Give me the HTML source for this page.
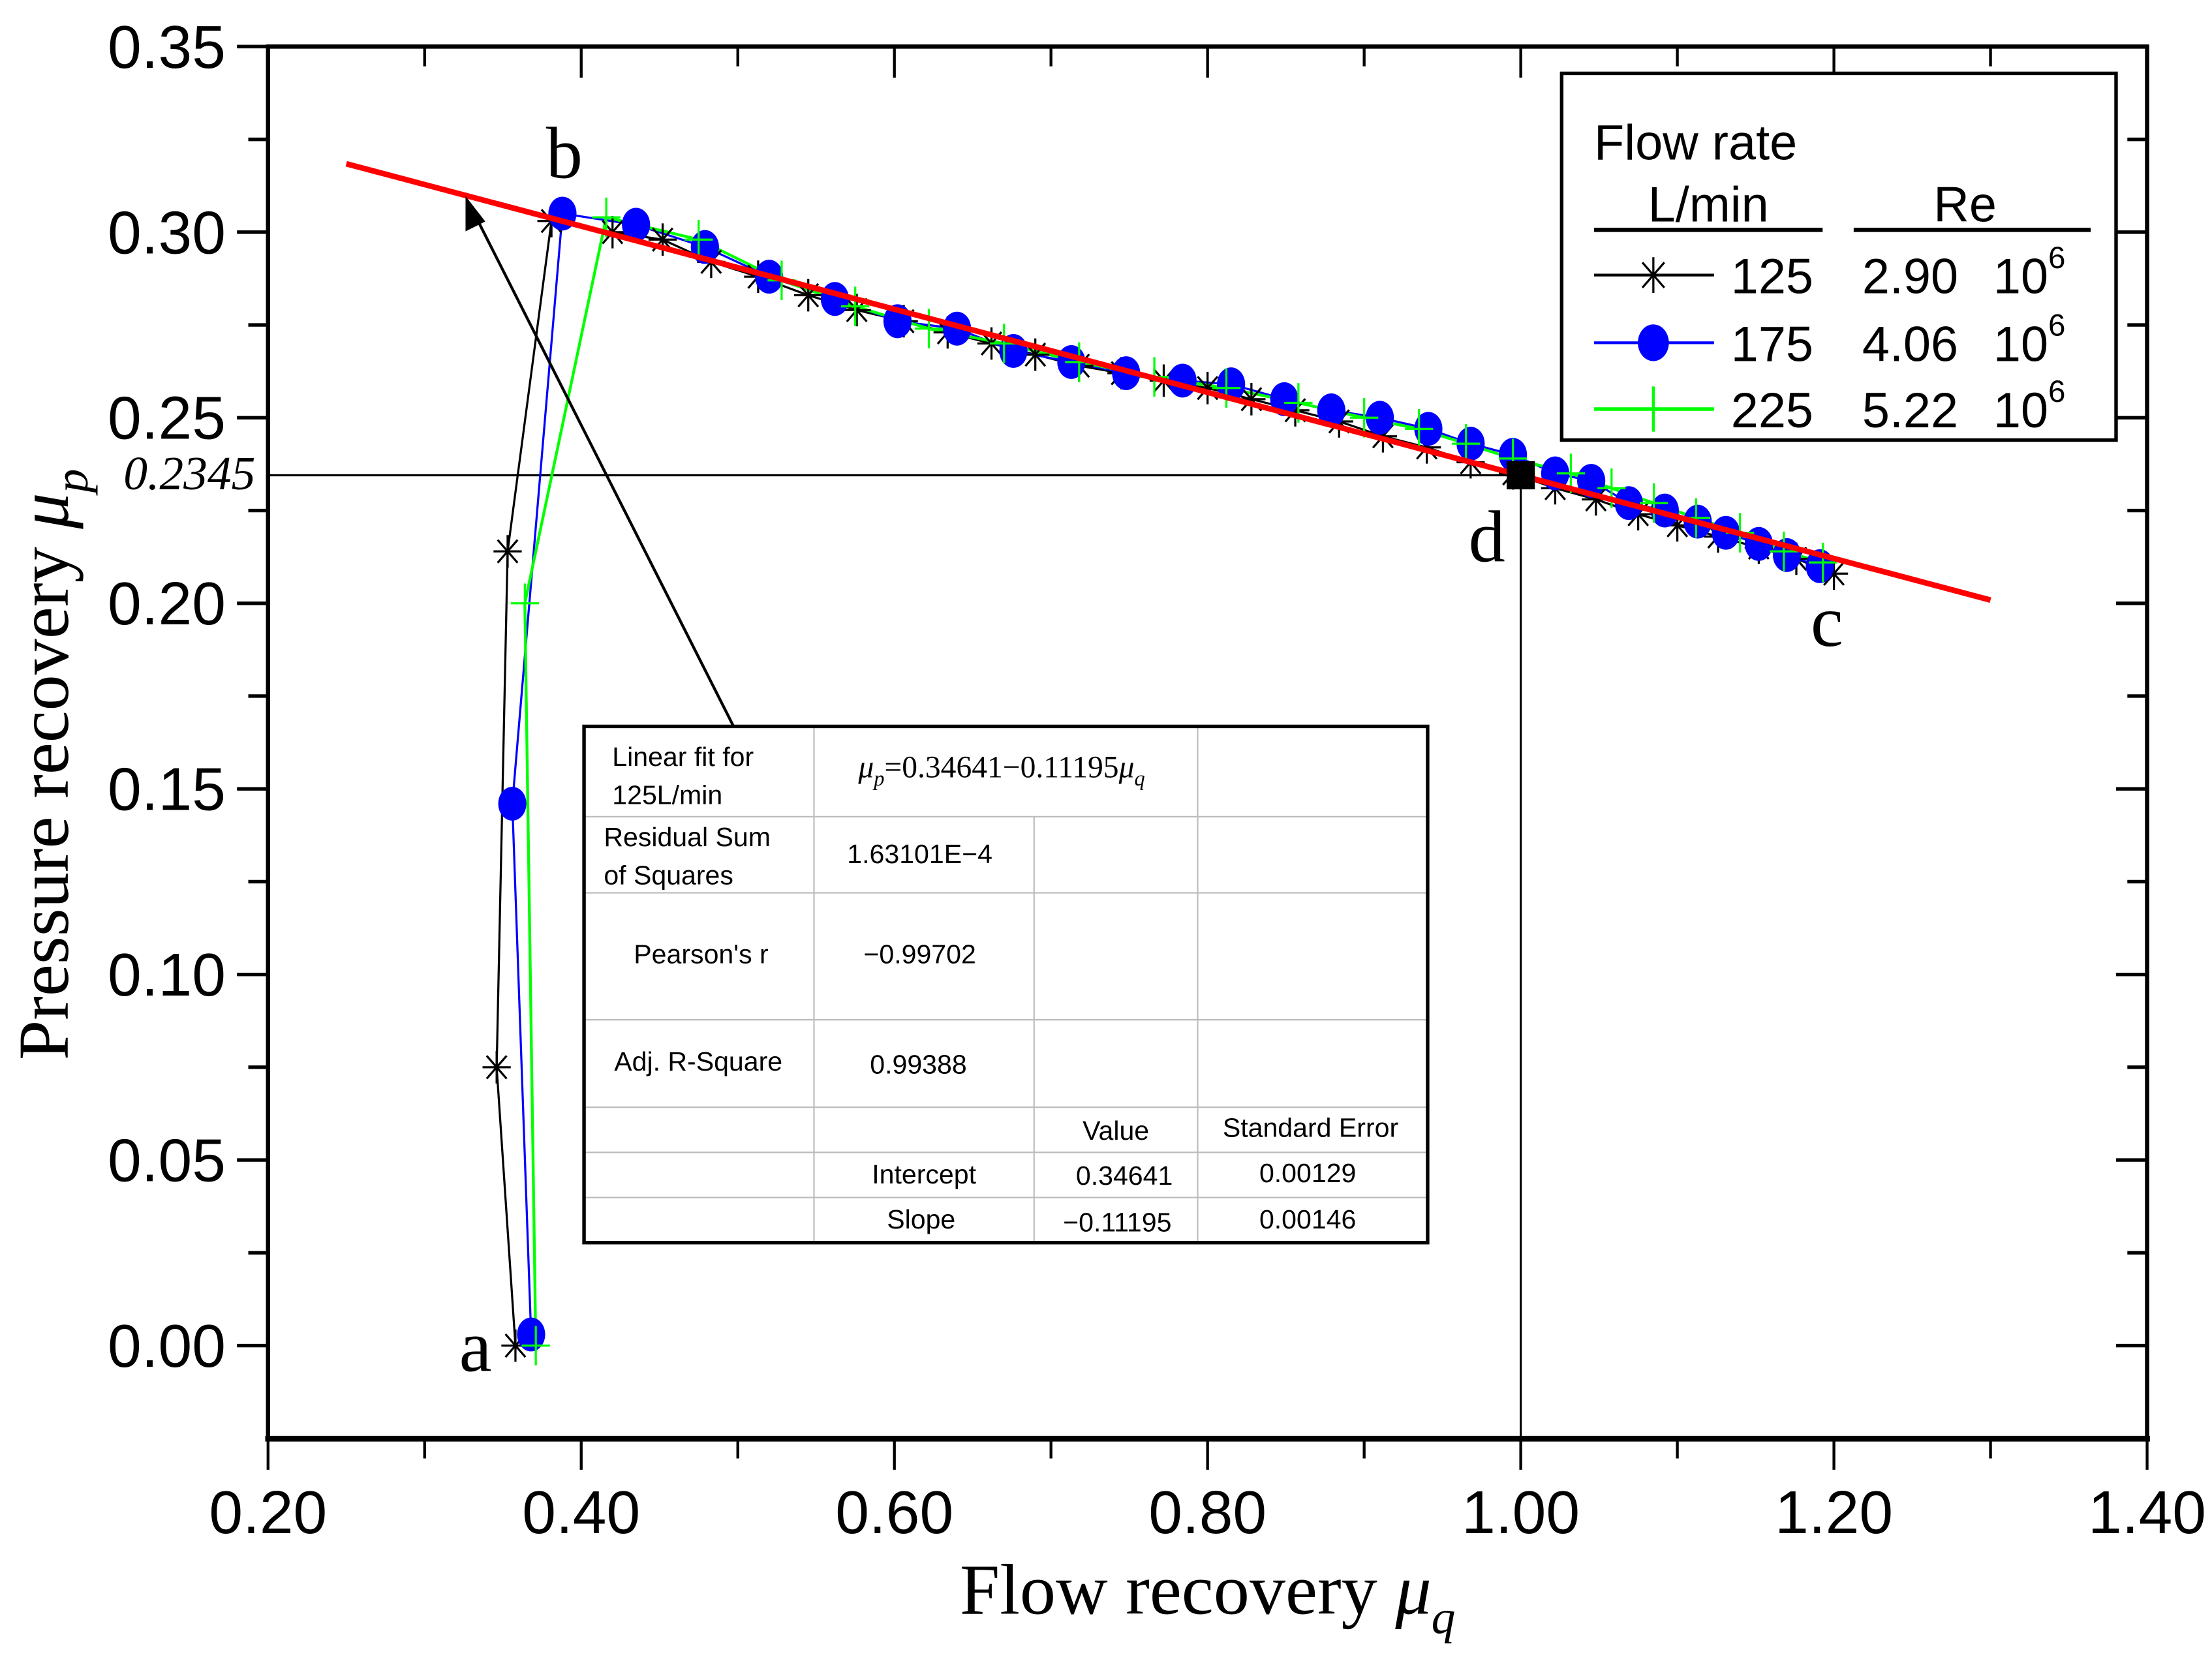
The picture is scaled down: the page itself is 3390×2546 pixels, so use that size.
<!DOCTYPE html>
<html><head><meta charset="utf-8"><style>
html,body{margin:0;padding:0;background:#fff}
svg{display:block}
.tk{font-family:"Liberation Sans",Arial,sans-serif;font-size:43px;fill:#000}
.sf{font-family:"Liberation Serif","Times New Roman",serif;fill:#000}
.tb{font-family:"Liberation Sans",Arial,sans-serif;font-size:19px;fill:#000}
.lg{font-family:"Liberation Sans",Arial,sans-serif;font-size:35px;fill:#000}
</style></head><body>
<svg id="chart" width="3390" height="2546" viewBox="0 0 1568 1177.6" xmlns="http://www.w3.org/2000/svg">
<rect x="0" y="0" width="1568" height="1178" fill="#fff"/>
<g id="axes"></g>
<g id="guides"></g>
<g id="series"></g>
<text class="sf" x="856" y="1144" font-size="51" text-anchor="middle">Flow recovery <tspan font-style="italic">μ</tspan><tspan font-style="italic" font-size="34" dy="14">q</tspan></text>
<text class="sf" transform="translate(48,542) rotate(-90)" font-size="51" text-anchor="middle">Pressure recovery <tspan font-style="italic">μ</tspan><tspan font-style="italic" font-size="34" dy="14">p</tspan></text>
<text class="sf" x="181" y="347" font-size="34" font-style="italic" text-anchor="end">0.2345</text>
<text class="sf" x="400" y="126" font-size="52" text-anchor="middle">b</text>
<text class="sf" x="337" y="972" font-size="52" text-anchor="middle">a</text>
<text class="sf" x="1295" y="458" font-size="52" text-anchor="middle">c</text>
<text class="sf" x="1054" y="398" font-size="52" text-anchor="middle">d</text>
<g>
<line x1="520" y1="515" x2="337" y2="153" stroke="#000" stroke-width="2"/>
<polygon points="330,139 330,164 344,157" fill="#000"/>
</g>
<g id="legend">
<rect x="1107" y="52" width="393" height="260" fill="#fff" stroke="#000" stroke-width="2.5"/>
<text class="lg" x="1130" y="113">Flow rate</text>
<text class="lg" x="1211" y="157" text-anchor="middle">L/min</text>
<text class="lg" x="1393" y="157" text-anchor="middle">Re</text>
<line x1="1130" y1="163" x2="1292" y2="163" stroke="#000" stroke-width="3"/>
<line x1="1314" y1="163" x2="1482" y2="163" stroke="#000" stroke-width="3"/>
<g>
<line x1="1130" y1="195" x2="1215" y2="195" stroke="#000" stroke-width="2"/>
<g id="lgm0"></g>
<text class="lg" x="1227" y="208">125</text><text class="lg" x="1320" y="208">2.90</text><text class="lg" x="1413" y="208">10<tspan font-size="22" dy="-18">6</tspan></text></g>
<g>
<line x1="1130" y1="243" x2="1215" y2="243" stroke="#0000ff" stroke-width="2"/>
<ellipse cx="1172" cy="243" rx="11" ry="13" fill="#0000ff"/>
<text class="lg" x="1227" y="256">175</text><text class="lg" x="1320" y="256">4.06</text><text class="lg" x="1413" y="256">10<tspan font-size="22" dy="-18">6</tspan></text></g>
<g>
<line x1="1130" y1="290" x2="1215" y2="290" stroke="#00ff00" stroke-width="2.5"/>
<line x1="1172" y1="274" x2="1172" y2="306" stroke="#00ff00" stroke-width="2"/>
<text class="lg" x="1227" y="303">225</text><text class="lg" x="1320" y="303">5.22</text><text class="lg" x="1413" y="303">10<tspan font-size="22" dy="-18">6</tspan></text></g>
</g>
<g id="fit-table">
<rect x="414" y="515" width="598" height="366" fill="#fff"/>
<g stroke="#bbb" stroke-width="1">
<line x1="577" y1="515" x2="577" y2="881"/><line x1="733" y1="579" x2="733" y2="881"/><line x1="849" y1="515" x2="849" y2="881"/>
<line x1="414" y1="579" x2="1012" y2="579"/><line x1="414" y1="633" x2="1012" y2="633"/><line x1="414" y1="723" x2="1012" y2="723"/>
<line x1="414" y1="785" x2="1012" y2="785"/><line x1="414" y1="817" x2="1012" y2="817"/><line x1="414" y1="849" x2="1012" y2="849"/>
</g>
<rect x="414" y="515" width="598" height="366" fill="none" stroke="#000" stroke-width="2.5"/>
<text class="tb" x="434" y="543">Linear fit for</text><text class="tb" x="434" y="570">125L/min</text>
<text class="sf" x="710" y="551" font-size="22" text-anchor="middle"><tspan font-style="italic">μ</tspan><tspan font-style="italic" font-size="15" dy="6">p</tspan><tspan dy="-6">=0.34641−0.11195</tspan><tspan font-style="italic">μ</tspan><tspan font-style="italic" font-size="15" dy="6">q</tspan></text>
<text class="tb" x="428" y="600">Residual Sum</text><text class="tb" x="428" y="627">of Squares</text>
<text class="tb" x="652" y="612" text-anchor="middle">1.63101E−4</text>
<text class="tb" x="497" y="683" text-anchor="middle">Pearson's r</text><text class="tb" x="652" y="683" text-anchor="middle">−0.99702</text>
<text class="tb" x="495" y="759" text-anchor="middle">Adj. R-Square</text><text class="tb" x="651" y="761" text-anchor="middle">0.99388</text>
<text class="tb" x="791" y="808" text-anchor="middle">Value</text><text class="tb" x="929" y="806" text-anchor="middle">Standard Error</text>
<text class="tb" x="655" y="839" text-anchor="middle">Intercept</text><text class="tb" x="797" y="840" text-anchor="middle">0.34641</text><text class="tb" x="927" y="838" text-anchor="middle">0.00129</text>
<text class="tb" x="653" y="871" text-anchor="middle">Slope</text><text class="tb" x="792" y="873" text-anchor="middle">−0.11195</text><text class="tb" x="927" y="871" text-anchor="middle">0.00146</text>
</g>
</svg>
<script>
const xTicks=[0.2,0.4,0.6,0.8,1.0,1.2,1.4];
const xTickLabels=["0.20","0.40","0.60","0.80","1.00","1.20","1.40"];
const yTicks=[0,0.05,0.1,0.15,0.2,0.25,0.3,0.35];
const yTickLabels=["0.00","0.05","0.10","0.15","0.20","0.25","0.30","0.35"];
const fitIntercept=0.34641, fitSlope=-0.11195, fitRange=[0.25,1.30];
const pointD=[1.0,0.2345];
const s125x=[0.358,0.346,0.353,0.381,0.42,0.452,0.483,0.513,0.545,0.576,0.606,0.634,0.662,0.690,0.718,0.745,0.772,0.800,0.828,0.856,0.884,0.912,0.940,0.968,0.995,1.022,1.048,1.075,1.100,1.126,1.152,1.176,1.200];
const s125y=[0.0,0.075,0.214,0.303,0.300,0.298,0.292,0.288,0.283,0.279,0.276,0.273,0.270,0.267,0.264,0.262,0.260,0.258,0.255,0.252,0.249,0.245,0.242,0.238,0.235,0.231,0.228,0.224,0.221,0.218,0.215,0.212,0.208];
const s175x=[0.368,0.356,0.388,0.435,0.479,0.520,0.562,0.602,0.640,0.676,0.713,0.748,0.784,0.815,0.849,0.879,0.910,0.941,0.968,0.995,1.022,1.045,1.069,1.092,1.113,1.131,1.152,1.170,1.191];
const s175y=[0.003,0.146,0.305,0.302,0.296,0.288,0.282,0.276,0.274,0.268,0.265,0.262,0.260,0.259,0.255,0.252,0.250,0.247,0.243,0.240,0.235,0.233,0.227,0.225,0.222,0.219,0.216,0.213,0.210];
const s225x=[0.371,0.364,0.416,0.475,0.528,0.575,0.622,0.670,0.718,0.766,0.812,0.858,0.900,0.935,0.965,0.995,1.032,1.058,1.085,1.112,1.140,1.168,1.193];
const s225y=[0.0,0.200,0.304,0.298,0.287,0.280,0.274,0.270,0.265,0.261,0.258,0.254,0.250,0.247,0.243,0.239,0.235,0.231,0.227,0.223,0.219,0.214,0.211];
const NS='http://www.w3.org/2000/svg';
function X(v){return 190+(v-0.2)*1110;}
function Y(v){return 954-v*2631.4;}
function mk(tag,attrs,parent){const e=document.createElementNS(NS,tag);for(const k in attrs)e.setAttribute(k,attrs[k]);parent.appendChild(e);return e;}
const axes=document.getElementById('axes');
const L=X(0.2),R=X(1.4),T=Y(0.35),B=1020;
const frame=mk('rect',{x:L,y:T,width:R-L,height:B-T,fill:'none',stroke:'#000','stroke-width':3},axes);


mk('line',{x1:L-2,y1:B,x2:R+2,y2:B,stroke:'#000','stroke-width':4},axes);
for(let v=0.2;v<=1.401;v+=0.1){const x=X(v);const major=Math.abs(Math.round(v*10)%2)===0;
 mk('line',{x1:x,y1:B,x2:x,y2:B+(major?22:14),stroke:'#000','stroke-width':2},axes);
 mk('line',{x1:x,y1:T,x2:x,y2:T+(major?22:14),stroke:'#000','stroke-width':2},axes);}
for(let v=-0.025;v<=0.351;v+=0.025){const y=Y(v);const major=Math.abs(Math.round(v*40)%2)===0;
 if(y>B-1)continue;
 mk('line',{x1:L,y1:y,x2:L-(major?22:14),y2:y,stroke:'#000','stroke-width':2.5},axes);
 mk('line',{x1:R,y1:y,x2:R-(major?22:14),y2:y,stroke:'#000','stroke-width':2.5},axes);}
xTicks.forEach((v,i)=>{const t=mk('text',{x:X(v),y:1087,'text-anchor':'middle',class:'tk'},axes);t.textContent=xTickLabels[i];
 
 });
yTicks.forEach((v,i)=>{const t=mk('text',{x:160,y:Y(v)+15,'text-anchor':'end',class:'tk'},axes);t.textContent=yTickLabels[i];
 
 });
const g=document.getElementById('guides');
const hl=mk('line',{x1:L,y1:Y(pointD[1]),x2:X(pointD[0]),y2:Y(pointD[1]),stroke:'#000','stroke-width':1.5},g);


const vl=mk('line',{x1:X(pointD[0]),y1:Y(pointD[1]),x2:X(pointD[0]),y2:B,stroke:'#000','stroke-width':1.5},g);


const S=document.getElementById('series');
function star(cx,cy,r,par){const gg=mk('g',{stroke:'#000','stroke-width':1.5},par);
 for(let k=0;k<4;k++){const a=k*Math.PI/4;mk('line',{x1:cx-r*Math.sin(a),y1:cy-r*Math.cos(a)*1.15,x2:cx+r*Math.sin(a),y2:cy+r*Math.cos(a)*1.15},gg);}return gg;}
function poly(xs,ys,col,w,name){const p=mk('polyline',{points:xs.map((x,i)=>X(x)+','+Y(ys[i])).join(' '),fill:'none',stroke:col,'stroke-width':w},S);
 
 }
poly(s125x,s125y,'#000',1.5,'series-125-line');
poly(s175x,s175y,'#0000ff',1.5,'series-175-line');
poly(s225x,s225y,'#00ff00',2,'series-225-line');
const m125=mk('g',{},S);


s125x.forEach((x,i)=>star(X(x),Y(s125y[i]),10,m125));
const m175=mk('g',{fill:'#0000ff'},S);


s175x.forEach((x,i)=>mk('ellipse',{cx:X(x),cy:Y(s175y[i]),rx:10,ry:12},m175));
const m225=mk('g',{stroke:'#00ff00','stroke-width':1.5},S);


s225x.forEach((x,i)=>{const cx=X(x),cy=Y(s225y[i]);mk('line',{x1:cx-10,y1:cy,x2:cx+10,y2:cy},m225);mk('line',{x1:cx,y1:cy-14,x2:cx,y2:cy+14},m225);});
const fit=mk('line',{x1:X(fitRange[0]),y1:Y(fitIntercept+fitSlope*fitRange[0]),x2:X(fitRange[1]),y2:Y(fitIntercept+fitSlope*fitRange[1]),stroke:'#ff0000','stroke-width':4},S);


const d=mk('rect',{x:X(pointD[0])-10,y:Y(pointD[1])-10,width:20,height:20,fill:'#000'},S);


star(1172,195,11,document.getElementById('lgm0'));
</script>
</body></html>
